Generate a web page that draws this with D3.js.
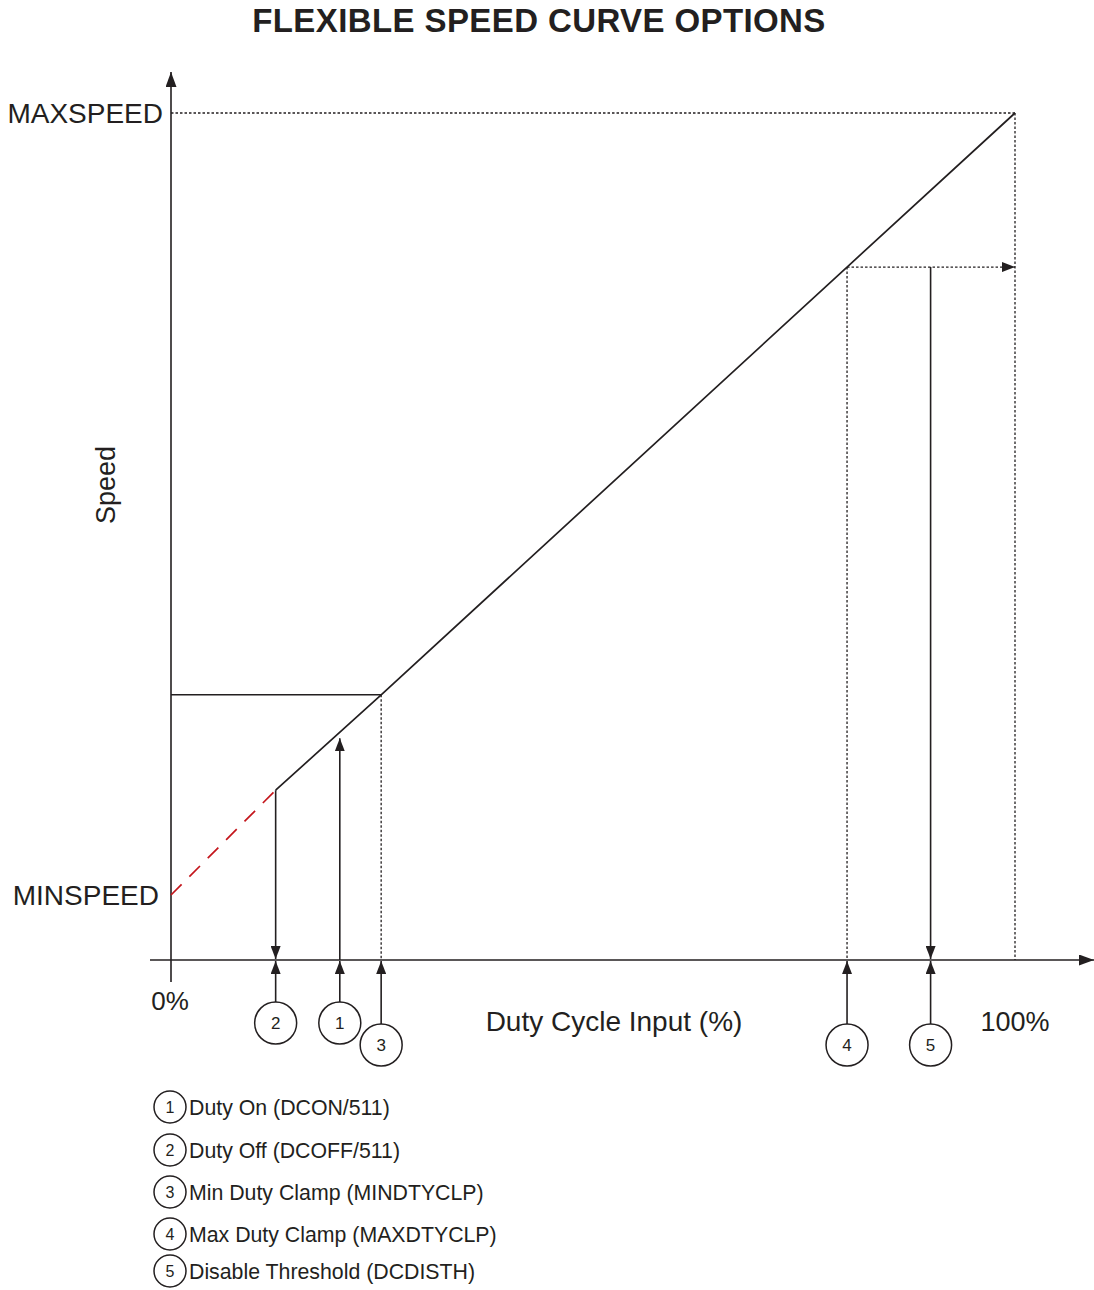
<!DOCTYPE html>
<html lang="en">
<head>
  <meta charset="UTF-8" />
  <title>Flexible Speed Curve Options</title>
  <script src="https://d3js.org/d3.v7.min.js"></script>
  <style>
    body { margin: 0; background: #fff; }
    text {
      font-family: "Liberation Sans", Arial, sans-serif;
      fill: #231f20;
    }
  </style>
</head>
<body>
  <svg width="1094" height="1290"></svg>

  <script>
    // duty cycle input (%) and speed (% between MINSPEED and MAXSPEED) along the curve
    const curveDuty = [0, 12.4, 24.9, 80.1, 100];
    const curveSpeed = [0, 13.4, 25.6, 80.3, 100];

    // the five settings, in legend order
    const markerIds = [1, 2, 3, 4, 5];
    const markerDuty = [20.0, 12.4, 24.9, 80.1, 90.0];
    const markerNames = [
      "Duty On (DCON/511)",
      "Duty Off (DCOFF/511)",
      "Min Duty Clamp (MINDTYCLP)",
      "Max Duty Clamp (MAXDTYCLP)",
      "Disable Threshold (DCDISTH)"
    ];

    const speedLabels = ["MINSPEED", "MAXSPEED"];
    const dutyLabels = ["0%", "100%"];

    const svg = d3.select("svg");
    const ink = "#231f20";

    const x = d3.scaleLinear().domain([0, 100]).range([171, 1015]);
    const y = d3.scaleLinear().domain([0, 100]).range([895, 113]);
    const axisY = 960;

    // arrow heads
    const defs = svg.append("defs");
    defs.append("marker")
      .attr("id", "arrow")
      .attr("viewBox", "0 0 13 10")
      .attr("refX", 13).attr("refY", 5)
      .attr("markerUnits", "userSpaceOnUse")
      .attr("markerWidth", 13).attr("markerHeight", 10)
      .attr("orient", "auto")
      .append("path").attr("d", "M0,0L13,5L0,10Z").attr("fill", ink);
    defs.append("marker")
      .attr("id", "arrowBig")
      .attr("viewBox", "0 0 15 11")
      .attr("refX", 15).attr("refY", 5.5)
      .attr("markerUnits", "userSpaceOnUse")
      .attr("markerWidth", 15).attr("markerHeight", 11)
      .attr("orient", "auto")
      .append("path").attr("d", "M0,0L15,5.5L0,11Z").attr("fill", ink);

    function seg(x1, y1, x2, y2, opts = {}) {
      const l = svg.append("line")
        .attr("x1", x1).attr("y1", y1).attr("x2", x2).attr("y2", y2)
        .attr("stroke", opts.color || ink)
        .attr("stroke-width", opts.width || 1.6);
      if (opts.dash) l.attr("stroke-dasharray", opts.dash);
      if (opts.arrow) l.attr("marker-end", "url(#" + opts.arrow + ")");
      return l;
    }

    // title
    svg.append("text")
      .attr("x", 539).attr("y", 32)
      .attr("text-anchor", "middle")
      .attr("font-size", 33).attr("font-weight", "bold")
      .attr("letter-spacing", 0.4)
      .text("FLEXIBLE SPEED CURVE OPTIONS");

    // axes
    seg(x(0), 982, x(0), 72, { arrow: "arrowBig" });
    seg(150, axisY, 1094, axisY, { arrow: "arrowBig" });

    const dot = "2.5,2";
    const interp = d3.scaleLinear().domain(curveDuty).range(curveSpeed);

    // MAXSPEED guide lines
    seg(x(0), y(100), x(100), y(100), { dash: dot, width: 1.3 });
    seg(x(100), y(100), x(100), axisY, { dash: dot, width: 1.3 });

    // min duty clamp guides
    const minClamp = markerDuty[2];
    seg(x(0), y(interp(minClamp)), x(minClamp), y(interp(minClamp)), { width: 1.4 });
    seg(x(minClamp), y(interp(minClamp)), x(minClamp), axisY, { dash: dot, width: 1.3 });

    // max duty clamp guides
    const maxClamp = markerDuty[3];
    seg(x(maxClamp), y(interp(maxClamp)), x(maxClamp), axisY, { dash: dot, width: 1.3 });
    seg(x(maxClamp), y(interp(maxClamp)), x(100), y(interp(maxClamp)), { dash: dot, width: 1.3, arrow: "arrow" });

    // speed curve: red dashed below duty off, solid above
    const line = d3.line().x(d => x(d[0])).y(d => y(d[1]));
    const pts = curveDuty.map((d, i) => [d, curveSpeed[i]]);
    svg.append("path")
      .attr("d", line(pts.slice(0, 2)))
      .attr("fill", "none").attr("stroke", "#c4161c")
      .attr("stroke-width", 1.7).attr("stroke-dasharray", "15,11");
    svg.append("path")
      .attr("d", line(pts.slice(1)))
      .attr("fill", "none").attr("stroke", ink).attr("stroke-width", 1.7);

    // duty off: curve down to axis
    const dOff = markerDuty[1];
    seg(x(dOff), y(interp(dOff)), x(dOff), axisY - 1, { arrow: "arrow" });
    // duty on: axis up to curve
    const dOn = markerDuty[0];
    seg(x(dOn), axisY, x(dOn), y(interp(dOn)) + 6, { arrow: "arrow" });
    // disable threshold: from max clamp level down to axis
    const dDis = markerDuty[4];
    seg(x(dDis), y(interp(maxClamp)), x(dDis), axisY - 1, { arrow: "arrow" });

    // numbered callouts under the axis
    const r = 21;
    markerIds.forEach((id, i) => {
      const cx = x(markerDuty[i]);
      const cy = id <= 2 ? 1023 : 1045;
      seg(cx, cy - r, cx, axisY + 1, { arrow: "arrow" });
      svg.append("circle")
        .attr("cx", cx).attr("cy", cy).attr("r", r)
        .attr("fill", "#fff").attr("stroke", ink).attr("stroke-width", 1.5);
      svg.append("text")
        .attr("x", cx).attr("y", cy + 6)
        .attr("text-anchor", "middle").attr("font-size", 17)
        .text(id);
    });

    // axis labels
    svg.append("text")
      .attr("x", 163).attr("y", y(100) + 10)
      .attr("text-anchor", "end").attr("font-size", 28)
      .text(speedLabels[1]);
    svg.append("text")
      .attr("x", 159).attr("y", y(0) + 10)
      .attr("text-anchor", "end").attr("font-size", 28)
      .text(speedLabels[0]);
    svg.append("text")
      .attr("x", x(0) - 1).attr("y", 1010)
      .attr("text-anchor", "middle").attr("font-size", 26)
      .text(dutyLabels[0]);
    svg.append("text")
      .attr("x", x(100)).attr("y", 1031)
      .attr("text-anchor", "middle").attr("font-size", 27)
      .text(dutyLabels[1]);
    svg.append("text")
      .attr("x", 614).attr("y", 1031)
      .attr("text-anchor", "middle").attr("font-size", 28)
      .text("Duty Cycle Input (%)");
    svg.append("text")
      .attr("transform", "translate(115,485) rotate(-90)")
      .attr("text-anchor", "middle").attr("font-size", 27)
      .text("Speed");

    // legend
    const legendY = [1107, 1150, 1192, 1234, 1271];
    markerIds.forEach((id, i) => {
      const g = svg.append("g").attr("transform", `translate(170,${legendY[i]})`);
      g.append("circle").attr("r", 16)
        .attr("fill", "none").attr("stroke", ink).attr("stroke-width", 1.5);
      g.append("text").attr("y", 6).attr("text-anchor", "middle")
        .attr("font-size", 16).text(id);
      g.append("text").attr("x", 19).attr("y", 8)
        .attr("font-size", 21.3).text(markerNames[i]);
    });
  </script>
</body>
</html>
